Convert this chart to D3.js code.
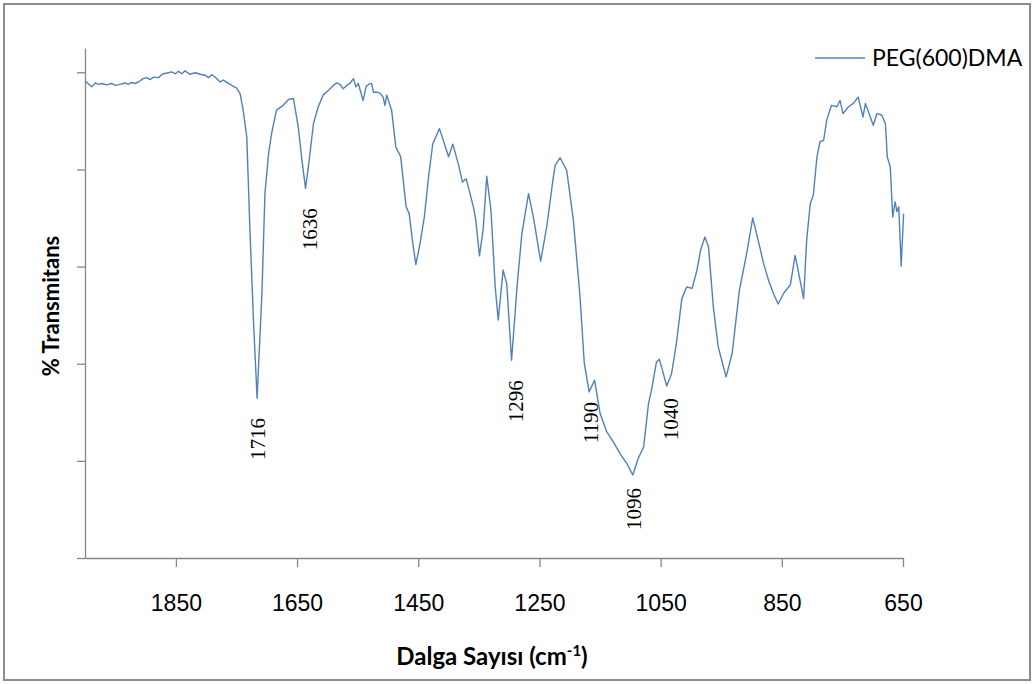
<!DOCTYPE html>
<html>
<head>
<meta charset="utf-8">
<script src="https://cdn.jsdelivr.net/npm/d3@7"></script>
<style>
  body { margin: 0; background: #fff; }
</style>
</head>
<body>
<div id="chart"></div>
<script>
// FTIR spectrum of PEG(600)DMA
var wavenumbers = [2000,1995,1989,1983,1978,1972,1964,1956,1950,1942,1934,1929,1923,1917,1912,1904,1898,1893,1887,1879,1871,1862,1857,1851,1846,1840,1835,1827,1818,1810,1802,1796,1791,1785,1777,1772,1763,1755,1750,
  1744,1739,1733,1728,1722,1716,1708,1703,1697,1692,1684,1673,1664,1656,1648,1642,1636,1630,1623,1615,
  1607,1598,1590,1585,1579,1574,1568,1563,1557,1553,1549,1541,1536,1532,1527,1524,1518,1513,1508,1505,1502,
  1494,1487,1479,1470,1465,1459,1454,1447,1440,1433,1426,1415,1400,1393,1384,1377,1371,1359,1355,1349,1343,1337,1330,1323,1318,1310,1304,1296,1287,1279,1268,1260,1248,1238,1227,1224,1216,1205,1194,1183,1176,1168,1159,1150,1139,1128,1117,1106,1096,1087,1078,1070,1065,1057,1052,1048,1040,1032,1024,1015,1007,998,990,984,977,971,963,955,942,932,920,908,898,889,880,872,864,856,847,836,828,821,814,809,803,798,792,787,781,776,768,759,754,749,740,732,724,716,712,704,699,693,685,679,676,671,667,663,660,657,653,649];
var transmittance = [98.2,97.7,97.0,97.8,97.5,97.7,97.4,97.7,97.3,97.5,97.8,97.5,97.9,97.7,98.0,98.7,98.9,98.5,99.0,98.9,99.7,99.9,100.1,99.7,100.2,99.7,100.3,99.6,99.9,99.6,99.4,98.9,99.5,99.0,98.0,98.4,97.7,97.1,96.8,
  95.6,92.2,86.7,68.2,49.0,32.9,54.5,75.1,83.3,87.4,92.2,93.2,94.4,94.6,88.7,81.9,76.1,81.9,89.4,92.9,
  95.3,96.3,97.3,97.8,97.5,96.6,97.3,97.7,98.7,97.0,97.7,94.2,97.1,97.5,97.7,95.9,95.9,95.7,94.9,93.2,95.3,
  92.2,84.6,82.6,72.3,70.9,64.8,60.4,64.8,70.2,78.5,85.3,88.4,82.6,85.2,81.2,77.4,78.1,72.3,69.5,62.2,67.5,78.6,71.6,55.8,49.0,59.3,56.5,40.7,55.8,66.8,75.0,70.2,61.1,68.2,78.5,80.9,82.4,79.8,69.5,53.8,40.1,34.2,36.6,29.8,26.0,23.9,21.5,19.5,17.1,20.5,22.9,31.8,34.6,40.3,40.9,39.1,35.4,37.9,44.2,53.4,55.8,55.5,59.3,63.4,66.1,64.1,51.7,43.5,37.3,42.1,55.1,62.7,70.0,65.4,60.6,57.2,54.5,52.3,54.5,56.2,62.3,57.9,53.4,65.4,73.0,74.7,82.6,85.7,86.0,90.1,93.2,92.9,94.2,91.5,92.9,93.6,94.9,90.8,93.6,90.8,89.1,91.5,91.2,89.4,82.6,80.5,70.2,73.3,71.3,72.3,60.1,70.9];

var xTicks = [1850,1650,1450,1250,1050,850,650];
var yTicks = [0,20,40,60,80,100];

// peak annotations: label text, where it sits (wavenumber, %T of its top end)
var peakLabels = ["1716","1636","1296","1190","1096","1040"];
var peakLabelWn = [1715,1629,1290,1166,1095,1034];
var peakLabelT = [28.8,72.0,36.6,32.1,14.4,32.9];

var seriesName = "PEG(600)DMA";

var width = 1035, height = 684;
var lineColor = "#4f81bd";
var axisColor = "#868686";

var svg = d3.select("#chart").append("svg")
  .attr("width", width)
  .attr("height", height)
  .style("font-family", "Lato, 'Open Sans', sans-serif");

// outer frame
svg.append("rect")
  .attr("x", 4).attr("y", 4)
  .attr("width", 1026).attr("height", 676)
  .attr("fill", "#fff")
  .attr("stroke", "#8c8c8c")
  .attr("stroke-width", 2);

var x = d3.scaleLinear().domain([2000, 650]).range([85, 903]);
var y = d3.scaleLinear().domain([0, 105]).range([558, 48]);

// axes
var xAxis = svg.append("g")
  .attr("transform", "translate(0,558)")
  .call(d3.axisBottom(x).tickValues(xTicks).tickSize(9).tickSizeOuter(0).tickPadding(28).tickFormat(d3.format("d")));
var yAxis = svg.append("g")
  .attr("transform", "translate(85,0)")
  .call(d3.axisLeft(y).tickValues(yTicks).tickSize(8).tickSizeOuter(0).tickFormat(""));

[xAxis, yAxis].forEach(function(a) {
  a.select(".domain").attr("stroke", axisColor).attr("stroke-width", 1.3);
  a.selectAll(".tick line").attr("stroke", axisColor).attr("stroke-width", 1.3);
});
xAxis.selectAll(".tick text")
  .attr("fill", "#000")
  .style("font-size", "23px");

// spectrum line
var data = wavenumbers.map(function(w, i) { return [w, transmittance[i]]; });
svg.append("path")
  .datum(data)
  .attr("fill", "none")
  .attr("stroke", lineColor)
  .attr("stroke-width", 1.4)
  .attr("stroke-linejoin", "round")
  .attr("d", d3.line().x(function(d){ return x(d[0]); }).y(function(d){ return y(d[1]); }));

// peak labels, rotated, reading upward
svg.selectAll(".peak")
  .data(peakLabels)
  .enter().append("text")
  .attr("class", "peak")
  .attr("transform", function(d, i) {
    return "translate(" + x(peakLabelWn[i]) + "," + y(peakLabelT[i]) + ") rotate(-90)";
  })
  .attr("text-anchor", "end")
  .attr("dy", "0.35em")
  .style("font-family", "'Liberation Serif', 'Times New Roman', serif")
  .style("font-size", "21px")
  .text(function(d){ return d; });

// axis titles
svg.append("text")
  .attr("transform", "translate(59,306) rotate(-90)")
  .attr("text-anchor", "middle")
  .style("font-size", "22px")
  .style("font-weight", "bold")
  .text("% Transmitans");

var xt = svg.append("text")
  .attr("x", 492).attr("y", 665)
  .attr("text-anchor", "middle")
  .style("font-size", "24px")
  .style("font-weight", "bold");
xt.append("tspan").text("Dalga Sayısı (cm");
xt.append("tspan").attr("dy", -9).style("font-size", "15px").text("-1");
xt.append("tspan").attr("dy", 9).text(")");

// legend
var legend = svg.append("g").attr("transform", "translate(815,58)");
legend.append("line")
  .attr("x1", 0).attr("x2", 50)
  .attr("stroke", lineColor).attr("stroke-width", 1.4);
legend.append("text")
  .attr("x", 57).attr("dy", "0.35em")
  .style("font-size", "23px")
  .text(seriesName);
</script>
</body>
</html>
